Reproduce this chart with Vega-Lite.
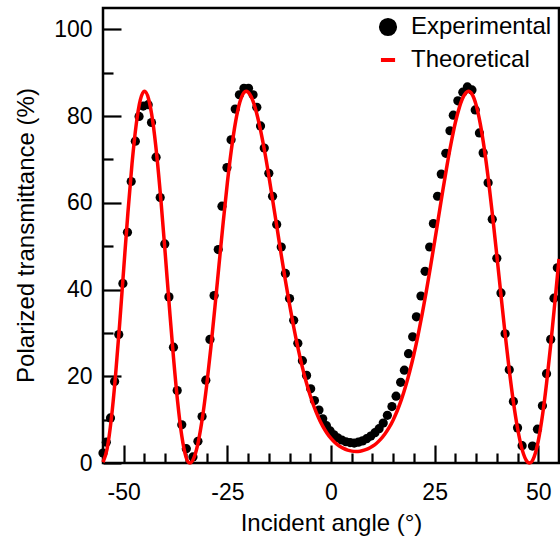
{
  "$schema": "https://vega.github.io/schema/vega-lite/v6.json",
  "width": 456,
  "height": 455,
  "autosize": {"type": "none"},
  "padding": {"left": 103, "top": 8, "right": 1, "bottom": 78},
  "config": {
    "view": {"stroke": "black", "strokeWidth": 2.5},
    "font": "Liberation Sans",
    "axis": {
      "domain": false, "grid": false,
      "labelFont": "Liberation Sans", "labelFontSize": 23, "labelColor": "black",
      "titleFont": "Liberation Sans", "titleFontSize": 24, "titleFontWeight": "normal", "titleColor": "black",
      "tickColor": "black", "tickWidth": 2.2, "labelOverlap": false, "labelFlush": false
    },
    "legend": {
      "labelFont": "Liberation Sans", "labelFontSize": 24, "labelColor": "black"
    }
  },
  "datasets": {
    "exp": [
      {"angle": -55.0, "T": 2.3}, {"angle": -54.2, "T": 4.8}, {"angle": -53.2, "T": 10.4}, {"angle": -52.2, "T": 18.8},
      {"angle": -51.2, "T": 29.6}, {"angle": -50.2, "T": 41.4}, {"angle": -49.1, "T": 53.2}, {"angle": -48.2, "T": 64.9},
      {"angle": -47.2, "T": 74.2}, {"angle": -46.3, "T": 79.9}, {"angle": -45.3, "T": 82.3}, {"angle": -44.1, "T": 82.6},
      {"angle": -43.3, "T": 78.5}, {"angle": -42.2, "T": 70.5}, {"angle": -41.2, "T": 61.2}, {"angle": -40.1, "T": 50.5},
      {"angle": -39.1, "T": 38.3}, {"angle": -38.0, "T": 26.7}, {"angle": -37.1, "T": 16.7}, {"angle": -36.0, "T": 8.8},
      {"angle": -34.9, "T": 3.3}, {"angle": -33.3, "T": 1.4}, {"angle": -32.1, "T": 5.0}, {"angle": -31.1, "T": 10.7},
      {"angle": -30.2, "T": 19.1}, {"angle": -29.2, "T": 28.5}, {"angle": -28.2, "T": 38.6}, {"angle": -27.2, "T": 49.2},
      {"angle": -26.3, "T": 59.2}, {"angle": -25.1, "T": 68.1}, {"angle": -24.1, "T": 74.5}, {"angle": -23.1, "T": 81.6},
      {"angle": -22.1, "T": 84.9}, {"angle": -21.0, "T": 86.4}, {"angle": -19.9, "T": 86.4}, {"angle": -18.8, "T": 84.9},
      {"angle": -17.9, "T": 82.0}, {"angle": -17.0, "T": 77.7}, {"angle": -16.1, "T": 72.6}, {"angle": -15.0, "T": 66.8},
      {"angle": -14.1, "T": 61.5}, {"angle": -13.1, "T": 55.0}, {"angle": -12.0, "T": 49.8}, {"angle": -11.0, "T": 43.7},
      {"angle": -10.0, "T": 37.9}, {"angle": -9.0, "T": 32.9}, {"angle": -8.0, "T": 27.6}, {"angle": -6.9, "T": 23.6},
      {"angle": -5.9, "T": 20.2}, {"angle": -4.9, "T": 17.1}, {"angle": -4.0, "T": 14.4}, {"angle": -2.9, "T": 12.2},
      {"angle": -2.0, "T": 10.2}, {"angle": -1.1, "T": 8.6}, {"angle": -0.2, "T": 7.4}, {"angle": 0.7, "T": 6.5},
      {"angle": 1.6, "T": 5.8}, {"angle": 2.6, "T": 5.3}, {"angle": 3.6, "T": 4.9}, {"angle": 4.6, "T": 4.7},
      {"angle": 5.6, "T": 4.6}, {"angle": 6.6, "T": 4.8}, {"angle": 7.6, "T": 5.1}, {"angle": 8.6, "T": 5.6},
      {"angle": 9.6, "T": 6.2}, {"angle": 10.6, "T": 7.0}, {"angle": 11.6, "T": 7.9}, {"angle": 12.6, "T": 9.2},
      {"angle": 13.6, "T": 11.0}, {"angle": 14.7, "T": 13.0}, {"angle": 15.7, "T": 15.4}, {"angle": 16.8, "T": 18.6},
      {"angle": 17.7, "T": 21.4}, {"angle": 18.7, "T": 25.2}, {"angle": 19.7, "T": 29.1}, {"angle": 20.6, "T": 33.7},
      {"angle": 21.7, "T": 38.5}, {"angle": 22.7, "T": 44.2}, {"angle": 23.8, "T": 49.8}, {"angle": 24.7, "T": 55.2},
      {"angle": 25.7, "T": 61.5}, {"angle": 26.6, "T": 66.6}, {"angle": 27.7, "T": 71.4}, {"angle": 28.7, "T": 76.6},
      {"angle": 29.5, "T": 80.2}, {"angle": 30.6, "T": 83.5}, {"angle": 31.8, "T": 85.5}, {"angle": 32.9, "T": 86.7},
      {"angle": 34.0, "T": 86.0}, {"angle": 34.8, "T": 81.4}, {"angle": 35.8, "T": 76.1}, {"angle": 36.7, "T": 71.5},
      {"angle": 37.9, "T": 64.6}, {"angle": 38.9, "T": 56.2}, {"angle": 40.0, "T": 47.2}, {"angle": 41.0, "T": 39.2},
      {"angle": 42.0, "T": 29.8}, {"angle": 43.0, "T": 21.5}, {"angle": 44.0, "T": 14.2}, {"angle": 45.0, "T": 8.1},
      {"angle": 46.1, "T": 4.0}, {"angle": 48.6, "T": 3.9}, {"angle": 49.8, "T": 7.8}, {"angle": 51.0, "T": 13.2},
      {"angle": 52.0, "T": 20.6}, {"angle": 53.0, "T": 28.5}, {"angle": 53.8, "T": 38.0}, {"angle": 54.6, "T": 45.0}
    ],
    "theo": [
      {"angle": -55, "T": 0.18}, {"angle": -54, "T": 3.33}, {"angle": -53, "T": 10.12}, {"angle": -52, "T": 19.93},
      {"angle": -51, "T": 31.87}, {"angle": -50, "T": 44.82}, {"angle": -49, "T": 57.58}, {"angle": -48, "T": 69.0},
      {"angle": -47, "T": 77.96}, {"angle": -46, "T": 83.71}, {"angle": -45, "T": 85.7}, {"angle": -44, "T": 83.93},
      {"angle": -43, "T": 78.78}, {"angle": -42, "T": 70.66}, {"angle": -41, "T": 60.24}, {"angle": -40, "T": 48.39},
      {"angle": -39, "T": 36.09}, {"angle": -38, "T": 24.36}, {"angle": -37, "T": 14.16}, {"angle": -36, "T": 6.26},
      {"angle": -35, "T": 1.44}, {"angle": -34.1, "T": 0.0}, {"angle": -33, "T": 1.38}, {"angle": -32, "T": 4.94},
      {"angle": -31, "T": 10.53}, {"angle": -30, "T": 17.83}, {"angle": -29, "T": 26.46}, {"angle": -28, "T": 35.93},
      {"angle": -27, "T": 45.82}, {"angle": -26, "T": 55.52}, {"angle": -25, "T": 64.6}, {"angle": -24, "T": 72.44},
      {"angle": -23, "T": 78.77}, {"angle": -22, "T": 83.15}, {"angle": -21, "T": 85.41}, {"angle": -20.5, "T": 85.7},
      {"angle": -20, "T": 85.49}, {"angle": -19, "T": 83.88}, {"angle": -18, "T": 80.85}, {"angle": -17, "T": 76.75},
      {"angle": -16, "T": 71.81}, {"angle": -15, "T": 66.18}, {"angle": -14, "T": 60.15}, {"angle": -13, "T": 54.1},
      {"angle": -12, "T": 47.97}, {"angle": -11, "T": 42.09}, {"angle": -10, "T": 36.55}, {"angle": -9, "T": 31.36},
      {"angle": -8, "T": 26.67}, {"angle": -7, "T": 22.45}, {"angle": -6, "T": 18.72}, {"angle": -5, "T": 15.51},
      {"angle": -4, "T": 12.74}, {"angle": -3, "T": 10.42}, {"angle": -2, "T": 8.49}, {"angle": -1, "T": 6.92},
      {"angle": 0, "T": 5.66}, {"angle": 1, "T": 4.67}, {"angle": 2, "T": 3.92}, {"angle": 3, "T": 3.36},
      {"angle": 4, "T": 2.97}, {"angle": 5, "T": 2.74}, {"angle": 6, "T": 2.66}, {"angle": 7, "T": 2.73},
      {"angle": 8, "T": 2.96}, {"angle": 9, "T": 3.32}, {"angle": 10, "T": 3.85}, {"angle": 11, "T": 4.56},
      {"angle": 12, "T": 5.49}, {"angle": 13, "T": 6.67}, {"angle": 14, "T": 8.14}, {"angle": 15, "T": 9.94},
      {"angle": 16, "T": 12.1}, {"angle": 17, "T": 14.67}, {"angle": 18, "T": 17.68}, {"angle": 19, "T": 21.14},
      {"angle": 20, "T": 25.07}, {"angle": 21, "T": 29.5}, {"angle": 22, "T": 34.37}, {"angle": 23, "T": 39.62},
      {"angle": 24, "T": 45.24}, {"angle": 25, "T": 51.07}, {"angle": 26, "T": 57.05}, {"angle": 27, "T": 63.0},
      {"angle": 28, "T": 68.68}, {"angle": 29, "T": 73.89}, {"angle": 30, "T": 78.5}, {"angle": 31, "T": 82.11},
      {"angle": 32, "T": 84.57}, {"angle": 33, "T": 85.67}, {"angle": 33.2, "T": 85.7}, {"angle": 34, "T": 85.07},
      {"angle": 35, "T": 82.57}, {"angle": 36, "T": 78.25}, {"angle": 37, "T": 72.33}, {"angle": 38, "T": 65.07},
      {"angle": 39, "T": 56.78}, {"angle": 40, "T": 47.87}, {"angle": 41, "T": 38.73}, {"angle": 42, "T": 29.76},
      {"angle": 43, "T": 21.43}, {"angle": 44, "T": 14.07}, {"angle": 45, "T": 8.01}, {"angle": 46, "T": 3.48},
      {"angle": 47, "T": 0.79}, {"angle": 47.9, "T": 0.0}, {"angle": 49, "T": 1.42}, {"angle": 50, "T": 5.11},
      {"angle": 51, "T": 10.88}, {"angle": 52, "T": 18.4}, {"angle": 53, "T": 27.26}, {"angle": 54, "T": 36.99},
      {"angle": 55, "T": 47.03}
    ]
  },
  "encoding": {
    "x": {
      "field": "angle", "type": "quantitative",
      "scale": {"domain": [-55, 55], "nice": false, "zero": false},
      "axis": {
        "title": "Incident angle (°)",
        "values": [-50, -45, -40, -35, -30, -25, -20, -15, -10, -5, 0, 5, 10, 15, 20, 25, 30, 35, 40, 45, 50],
        "labelExpr": "datum.value % 25 === 0 ? toString(datum.value) : ''",
        "tickSize": {"expr": "datum && datum.value % 25 !== 0 ? -10 : -18"},
        "labelPadding": 36,
        "titleX": 228, "titleY": 67, "titleAlign": "center", "titleBaseline": "alphabetic"
      }
    },
    "y": {
      "field": "T", "type": "quantitative",
      "scale": {"domain": [0, 104.9], "nice": false, "zero": false},
      "axis": {
        "title": "Polarized transmittance (%)",
        "values": [0, 10, 20, 30, 40, 50, 60, 70, 80, 90, 100],
        "labelExpr": "datum.value % 20 === 0 ? toString(datum.value) : ''",
        "tickSize": {"expr": "datum && datum.value % 20 !== 0 ? -10 : -18"},
        "labelPadding": 29,
        "titleX": -70, "titleY": 227, "titleAngle": 270, "titleAlign": "center", "titleBaseline": "alphabetic"
      }
    }
  },
  "layer": [
    {
      "data": {"name": "exp"},
      "transform": [{"calculate": "'Experimental'", "as": "series"}],
      "mark": {"type": "point", "filled": true, "size": 85, "opacity": 1},
      "encoding": {
        "color": {
          "field": "series", "type": "nominal",
          "scale": {"domain": ["Experimental", "Theoretical"], "range": ["#000000", "#ff0000"]},
          "legend": {
            "title": null, "orient": "none", "legendX": 273, "legendY": 7, "padding": 0,
            "rowPadding": 5, "labelOffset": 11, "symbolSize": 200, "symbolStrokeWidth": 4
          }
        },
        "shape": {
          "field": "series", "type": "nominal",
          "scale": {"domain": ["Experimental", "Theoretical"], "range": ["circle", "stroke"]},
          "legend": {
            "title": null, "orient": "none", "legendX": 273, "legendY": 7, "padding": 0,
            "rowPadding": 5, "labelOffset": 11, "symbolSize": 200, "symbolStrokeWidth": 4
          }
        }
      }
    },
    {
      "data": {"name": "theo"},
      "transform": [{"calculate": "'Theoretical'", "as": "series"}],
      "mark": {"type": "line", "strokeWidth": 3.5, "interpolate": "monotone"},
      "encoding": {
        "color": {
          "field": "series", "type": "nominal",
          "scale": {"domain": ["Experimental", "Theoretical"], "range": ["#000000", "#ff0000"]},
          "legend": {
            "title": null, "orient": "none", "legendX": 273, "legendY": 7, "padding": 0,
            "rowPadding": 5, "labelOffset": 11, "symbolSize": 200, "symbolStrokeWidth": 4
          }
        }
      }
    }
  ]
}
